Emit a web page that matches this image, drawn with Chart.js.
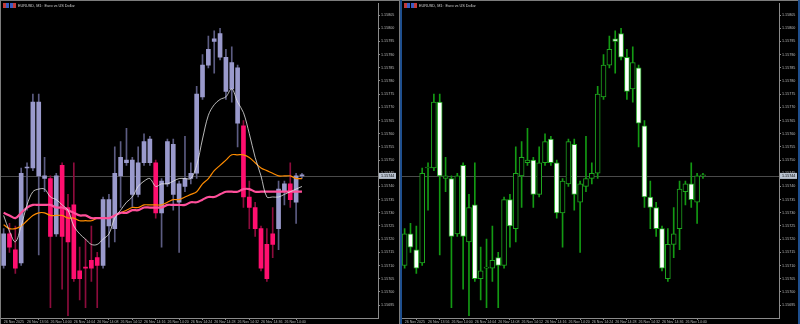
<!DOCTYPE html>
<html>
<head>
<meta charset="utf-8">
<script src="https://cdn.jsdelivr.net/npm/chart.js@4.4.1/dist/chart.umd.min.js"></script>
<style>
  html, body { margin: 0; padding: 0; background: #000; }
  #wrap { position: relative; width: 800px; height: 324px; overflow: hidden; background: #000; }
  canvas { position: absolute; top: 0; }
  #left { left: 0; }
  #right { left: 400px; }
</style>
</head>
<body>
<div id="wrap">
  <canvas id="left" width="400" height="324"></canvas>
  <canvas id="right" width="400" height="324"></canvas>
</div>
<script>
const symbolTitle = 'EURUSD, M1:  Euro vs US Dollar';

// one bar per minute, 26 Nov 13:52 .. 14:43
const timeTickBars = [0, 4, 8, 12, 16, 20, 24, 28, 32, 36, 40, 44, 48];
const timeLabels = ['26 Nov 2025', '26 Nov 13:56', '26 Nov 14:00', '26 Nov 14:04', '26 Nov 14:08',
  '26 Nov 14:12', '26 Nov 14:16', '26 Nov 14:20', '26 Nov 14:24', '26 Nov 14:28',
  '26 Nov 14:32', '26 Nov 14:36', '26 Nov 14:40'];

const yTicks = [1.15805, 1.15800, 1.15795, 1.15790, 1.15785, 1.15780, 1.15775, 1.15770, 1.15765,
  1.15760, 1.15755, 1.15750, 1.15745, 1.15740, 1.15735, 1.15730, 1.15725, 1.15720, 1.15715,
  1.15710, 1.15705, 1.15700, 1.15695];

const openPrices = [1.15710, 1.15722, 1.15716, 1.15711, 1.15747, 1.15747, 1.15772, 1.15743, 1.15743, 1.15722,
  1.15748, 1.15719, 1.15733, 1.15705, 1.15709, 1.15709, 1.15713, 1.15710, 1.15735, 1.15724,
  1.15744, 1.15749, 1.15750, 1.15737, 1.15749, 1.15758, 1.15749, 1.15730, 1.15741, 1.15756,
  1.15734, 1.15740, 1.15743, 1.15745, 1.15774, 1.15786, 1.15796, 1.15798, 1.15789, 1.15777,
  1.15785, 1.15763, 1.15736, 1.15732, 1.15724, 1.15705, 1.15718, 1.15724, 1.15738, 1.15741,
  1.15734, 1.15744];
const highPrices = [1.15724, 1.15726, 1.15725, 1.15747, 1.15749, 1.15775, 1.15775, 1.15751, 1.15744, 1.15745,
  1.15749, 1.15737, 1.15749, 1.15717, 1.15720, 1.15725, 1.15715, 1.15736, 1.15737, 1.15755,
  1.15757, 1.15762, 1.15751, 1.15755, 1.15760, 1.15759, 1.15750, 1.15743, 1.15758, 1.15758,
  1.15742, 1.15759, 1.15749, 1.15778, 1.15790, 1.15797, 1.15799, 1.15800, 1.15792, 1.15793,
  1.15786, 1.15765, 1.15742, 1.15734, 1.15725, 1.15724, 1.15732, 1.15742, 1.15742, 1.15749,
  1.15745, 1.15745];
const lowPrices = [1.15709, 1.15715, 1.15707, 1.15710, 1.15731, 1.15746, 1.15714, 1.15738, 1.15694, 1.15721,
  1.15701, 1.15691, 1.15704, 1.15697, 1.15694, 1.15704, 1.15694, 1.15709, 1.15717, 1.15719,
  1.15732, 1.15748, 1.15732, 1.15736, 1.15748, 1.15748, 1.15728, 1.15717, 1.15740, 1.15731,
  1.15715, 1.15738, 1.15741, 1.15743, 1.15773, 1.15785, 1.15783, 1.15788, 1.15773, 1.15772,
  1.15755, 1.15732, 1.15724, 1.15721, 1.15708, 1.15704, 1.15713, 1.15716, 1.15733, 1.15732,
  1.15726, 1.15743];
const closePrices = [1.15722, 1.15717, 1.15709, 1.15745, 1.15747, 1.15772, 1.15744, 1.15744, 1.15721, 1.15744,
  1.15721, 1.15732, 1.15705, 1.15708, 1.15709, 1.15712, 1.15710, 1.15735, 1.15725, 1.15745,
  1.15751, 1.15750, 1.15737, 1.15749, 1.15757, 1.15749, 1.15730, 1.15742, 1.15757, 1.15737,
  1.15741, 1.15743, 1.15745, 1.15775, 1.15786, 1.15792, 1.15795, 1.15789, 1.15776, 1.15787,
  1.15764, 1.15736, 1.15732, 1.15724, 1.15709, 1.15718, 1.15722, 1.15739, 1.15741, 1.15735,
  1.15744, 1.15744];

// indicator state used to colour the left chart (1 = up, -1 = down)
const trendState = [1, -1, -1, 1, 1, 1, 1, 1, -1, 1, -1, -1, -1, -1, -1, -1, -1, 1, 1, 1,
  1, 1, 1, 1, 1, 1, -1, 1, 1, 1, 1, 1, 1, 1, 1, 1, 1, 1, 1, 1,
  1, -1, -1, -1, -1, -1, -1, 1, 1, -1, 1, 1];

const fastMA = [1.15729, 1.15723, 1.15719, 1.15725, 1.15733, 1.15738, 1.15739, 1.15739, 1.15736, 1.15735,
  1.15733, 1.15731, 1.15725, 1.15722, 1.15720, 1.15718, 1.15718, 1.15720, 1.15722, 1.15728,
  1.15731, 1.15734, 1.15736, 1.15740, 1.15742, 1.15743, 1.15740, 1.15741, 1.15741, 1.15742,
  1.15743, 1.15743, 1.15743, 1.15748, 1.15758, 1.15767, 1.15771, 1.15773, 1.15774, 1.15777,
  1.15772, 1.15768, 1.15760, 1.15751, 1.15744, 1.15736, 1.15736, 1.15736, 1.15737, 1.15738,
  1.15739, 1.15740];
const midMA = [1.157255, 1.15724, 1.15724, 1.15725, 1.15727, 1.15729, 1.15730, 1.15730, 1.15729, 1.15729,
  1.15729, 1.15728, 1.15728, 1.15727, 1.15727, 1.15727, 1.15728, 1.15728, 1.15728, 1.15729,
  1.15730, 1.15731, 1.15732, 1.15732, 1.15733, 1.15733, 1.15733, 1.15733, 1.15734, 1.15735,
  1.15735, 1.15736, 1.15737, 1.15738, 1.15741, 1.15743, 1.15746, 1.15748, 1.15750, 1.15752,
  1.15752, 1.15752, 1.15751, 1.15749, 1.15747, 1.15746, 1.15745, 1.15744, 1.15744, 1.15744,
  1.15743, 1.15743];
const slowMA = [1.15730, 1.15729, 1.15728, 1.15730, 1.15732, 1.15733, 1.15733, 1.15733, 1.15733, 1.15732,
  1.15732, 1.15731, 1.15730, 1.15729, 1.15729, 1.15728, 1.15728, 1.15728, 1.15728, 1.15729,
  1.15730, 1.15730, 1.15731, 1.15731, 1.15732, 1.15732, 1.15732, 1.15732, 1.15733, 1.15733,
  1.15733, 1.15733, 1.15734, 1.15734, 1.15735, 1.15736, 1.15736, 1.15737, 1.15738, 1.15738,
  1.15738, 1.15739, 1.15739, 1.15738, 1.15738, 1.15738, 1.15738, 1.15738, 1.15738, 1.15738,
  1.15738, 1.15738];

const yMin = 1.156901;
const yMax = 1.158095;
const xMin = -0.45;
const xMax = 64;

const fontFamily = '"Liberation Sans", Arial, sans-serif';
const axisColor = '#8a8a8a';
const labelColor = '#b8b8b8';

function series(values) {
    return values.map((v, i) => ({ x: i, y: v }));
}

function bodyData() {
    return openPrices.map((o, i) => ({ x: i, y: [o, closePrices[i]] }));
}

function wickData() {
    return lowPrices.map((l, i) => ({ x: i, y: [l, highPrices[i]] }));
}

function lineSet(values, color, width) {
    return {
        type: 'line',
        data: series(values),
        borderColor: color,
        borderWidth: width,
        pointRadius: 0,
        tension: 0.35,
        fill: false
    };
}

function framePlugin(panel) {
    return {
        id: 'frame' + panel,
        beforeDatasetsDraw(chart) {
            const a = chart.chartArea;
            const ctx = chart.ctx;
            const y = Math.round(chart.scales.y.getPixelForValue(closePrices[closePrices.length - 1])) + 0.5;
            ctx.save();
            ctx.strokeStyle = '#4a4a4a';
            ctx.lineWidth = 1;
            ctx.beginPath();
            ctx.moveTo(a.left, y);
            ctx.lineTo(a.right, y);
            ctx.stroke();
            ctx.restore();
        },
        afterDraw(chart) {
            const a = chart.chartArea;
            const ctx = chart.ctx;
            const w = chart.width;
            const h = chart.height;
            ctx.save();
            // window frame
            ctx.fillStyle = '#7c7c7c';
            ctx.fillRect(0, 0, w, 1);
            if (panel === 'left') {
                ctx.fillRect(0, 0, 1, h);
                ctx.fillRect(w - 1, 0, 1, h);
            } else {
                ctx.fillStyle = '#1f4f8e';
                ctx.fillRect(0, 0, 2, h);
                ctx.fillRect(w - 2, 0, 2, h);
            }
            // header icons and title
            const ox = panel === 'left' ? 3 : 4;
            ctx.fillStyle = '#c23a3a';
            ctx.fillRect(ox, 3, 6, 5);
            ctx.fillStyle = '#3a5cc2';
            ctx.fillRect(ox + 3, 3, 3, 5);
            ctx.fillStyle = '#3a5cc2';
            ctx.fillRect(ox + 7, 3, 6, 5);
            ctx.fillStyle = '#c23a3a';
            ctx.fillRect(ox + 10, 3, 3, 5);
            ctx.fillStyle = '#d0d0d0';
            ctx.font = '3.8px ' + fontFamily;
            ctx.textBaseline = 'middle';
            ctx.textAlign = 'left';
            ctx.fillText(symbolTitle, ox + 15, 5.5);
            // current price tag
            const last = closePrices[closePrices.length - 1];
            const y = chart.scales.y.getPixelForValue(last);
            ctx.fillStyle = '#b9c2cf';
            ctx.fillRect(a.right + 1, y - 3, 17, 6);
            ctx.fillStyle = '#000';
            ctx.font = '3.7px ' + fontFamily;
            ctx.fillText(last.toFixed(5), a.right + 3, y);
            ctx.restore();
        }
    };
}

function makeChart(id, panel) {
    const left = panel === 'left';
    const datasets = [];
    if (left) {
        datasets.push(lineSet(fastMA, '#e6e6e6', 0.8));
        datasets.push(lineSet(slowMA, '#ff4f9a', 2.2));
        datasets.push(lineSet(midMA, '#ff8c00', 1.2));
    }
    datasets.push({
        type: 'bar',
        data: bodyData(),
        grouped: false,
        barThickness: left ? 4 : 5,
        minBarLength: 1,
        borderSkipped: false,
        borderWidth: left ? 0 : 1,
        borderColor: '#1fa61f',
        backgroundColor: openPrices.map((o, i) => left
            ? (trendState[i] > 0 ? '#9a9acc' : '#ff0f6f')
            : (closePrices[i] >= o ? '#000000' : '#ffffff'))
    });
    datasets.push({
        type: 'bar',
        data: wickData(),
        grouped: false,
        barThickness: 1,
        borderWidth: 0,
        backgroundColor: openPrices.map((o, i) => left
            ? (trendState[i] > 0 ? '#5c5c82' : '#8c0c3c')
            : '#139a13')
    });

    return new Chart(document.getElementById(id), {
        type: 'bar',
        data: { datasets: datasets },
        options: {
            responsive: false,
            animation: false,
            events: [],
            layout: { padding: { left: left ? 1 : 2, right: left ? 0 : 2, top: 1, bottom: 0 } },
            plugins: { legend: { display: false }, tooltip: { enabled: false } },
            scales: {
                x: {
                    type: 'linear',
                    min: xMin,
                    max: xMax,
                    offset: false,
                    afterBuildTicks: s => { s.ticks = timeTickBars.map(v => ({ value: v })); },
                    afterFit: s => { s.height = 6; },
                    grid: { drawOnChartArea: false, drawTicks: true, tickLength: 2, color: axisColor },
                    border: { display: true, color: axisColor },
                    ticks: {
                        autoSkip: false,
                        maxRotation: 0,
                        align: 'start',
                        padding: 0,
                        color: labelColor,
                        font: { size: 3.6, family: fontFamily },
                        callback: (v, i) => timeLabels[i]
                    }
                },
                y: {
                    position: 'right',
                    min: yMin,
                    max: yMax,
                    afterBuildTicks: s => { s.ticks = yTicks.map(v => ({ value: v })); },
                    afterFit: s => { s.width = left ? 22 : 19; },
                    grid: { drawOnChartArea: false, drawTicks: true, tickLength: 2, color: axisColor },
                    border: { display: true, color: axisColor },
                    ticks: {
                        padding: 1,
                        color: labelColor,
                        font: { size: 3.7, family: fontFamily },
                        callback: v => v.toFixed(5)
                    }
                }
            }
        },
        plugins: [framePlugin(panel)]
    });
}

makeChart('left', 'left');
makeChart('right', 'right');
</script>
</body>
</html>
